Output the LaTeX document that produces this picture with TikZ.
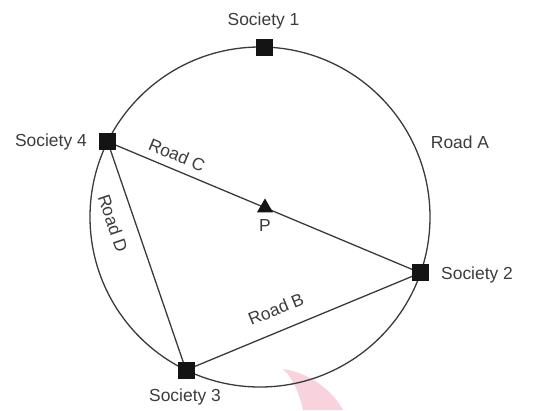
\documentclass[tikz,border=0pt]{standalone}
\usepackage{fontspec}
\setmainfont{Liberation Sans}
\usetikzlibrary{shapes.geometric}
\definecolor{txt}{HTML}{3C3C3C}
\definecolor{ln}{HTML}{3A3A3A}
\definecolor{wm}{HTML}{F8D2DD}
\begin{document}
\begin{tikzpicture}[x=1bp,y=-1bp,
  lbl/.style={text=txt,font=\fontsize{17.5}{20}\selectfont,inner sep=0pt},
  soc/.style={fill=black!92,draw=none,minimum size=17bp,inner sep=0pt},
  road/.style={draw=ln,line width=1.3bp},
  mark/.style={}]
\useasboundingbox (0,0) rectangle (555,410);
% faint watermark
\fill[wm] (283,369) .. controls (315,374) and (335,395) .. (343,410)
  -- (303,410) .. controls (300,395) and (293,378) .. (283,369) -- cycle;
% positions on the circle
\coordinate (C) at (260,217);
\coordinate (s1) at (264.1,47.0);
\coordinate (s4) at (107.6,141.7);
\coordinate (s2) at (420.5,272.9);
\coordinate (s3) at (186.0,370.1);
% Road A (circle)
\draw[road] (C) circle[radius=170bp];
% chords
\draw[road] (s4) -- coordinate[pos=0.503] (pp) (s2);
\draw[road] (s4) -- (s3);
\draw[road] (s3) -- (s2);
% societies
\node[soc] (S1) at (s1) {};
\node[soc] (S2) at (s2) {};
\node[soc] (S3) at (s3) {};
\node[soc] (S4) at (s4) {};
\node[regular polygon,regular polygon sides=3,fill=black!92,minimum size=18.5bp,inner sep=0pt] (P) at (pp) {};
% labels
\node[lbl] (l1) at (263.5,21) {Society 1};
\node[lbl,anchor=east] (l4) at (87,142) {Society 4};
\node[lbl,anchor=west] (l2) at (441,275) {Society 2};
\node[lbl] (l3) at (185,397) {Society 3};
\node[lbl] (lA) at (460,142) {Road A};
\node[lbl,rotate=-22.7] (lC) at (177,155) {Road C};
\node[lbl,rotate=22.4] (lB) at (276,309) {Road B};
\node[lbl,rotate=-71.1] (lD) at (113,223) {Road D};
\node[lbl] (lP) at (265,225) {P};
\end{tikzpicture}
\end{document}
